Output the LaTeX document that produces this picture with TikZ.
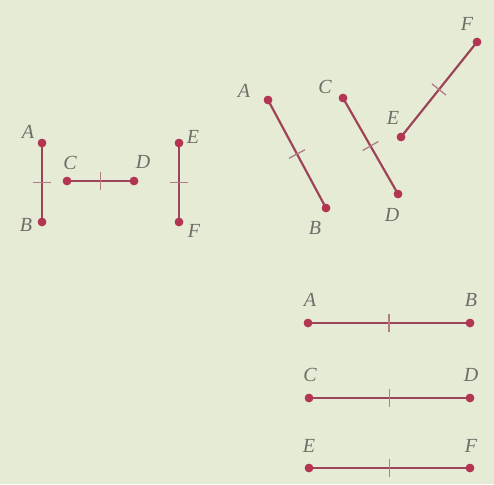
\documentclass[tikz,border=0pt]{standalone}
\usepackage{fontspec}
\setmainfont{Liberation Serif}
\usetikzlibrary{calc}
\definecolor{bg}{HTML}{E6EBD6}
\definecolor{seg}{HTML}{9E4458}
\definecolor{dotc}{HTML}{B23552}
\definecolor{tickc}{HTML}{B07C86}
\definecolor{lab}{HTML}{6E6E68}
\begin{document}
\begin{tikzpicture}[x=1pt,y=-1pt,
  pt/.style={circle,fill=dotc,inner sep=0pt,minimum size=8.5pt},
  segline/.style={draw=seg,line width=2.2pt},
  tickline/.style={draw=tickc,line width=1.3pt},
  lbl/.style={text=lab,font=\fontsize{20}{22}\selectfont\itshape,inner sep=0pt}]
\fill[bg] (0,0) rectangle (494,484);
\useasboundingbox (0,0) rectangle (494,484);
% group 1
\node[pt] (A1) at (42,143) {};
\node[pt] (B1) at (42,222) {};
\node[pt] (C1) at (67,181) {};
\node[pt] (D1) at (134,181) {};
\node[pt] (E1) at (179,143) {};
\node[pt] (F1) at (179,222) {};
% group 2
\node[pt] (A2) at (268,100) {};
\node[pt] (B2) at (326,208) {};
\node[pt] (C2) at (343,98) {};
\node[pt] (D2) at (398,194) {};
\node[pt] (E2) at (401,137) {};
\node[pt] (F2) at (477,42) {};
% group 3
\node[pt] (A3) at (308,323) {};
\node[pt] (B3) at (470,323) {};
\node[pt] (C3) at (309,398) {};
\node[pt] (D3) at (470,398) {};
\node[pt] (E3) at (309,468) {};
\node[pt] (F3) at (470,468) {};
% segments and ticks
\foreach \p/\q in {A1/B1,C1/D1,E1/F1,A2/B2,C2/D2,E2/F2,A3/B3,C3/D3,E3/F3}{
  \draw[segline] (\p.center) -- (\q.center);
  \draw[tickline] ($(\p.center)!0.5!(\q.center)!9pt!90:(\q.center)$) -- ($(\p.center)!0.5!(\q.center)!9pt!-90:(\q.center)$);
}
\foreach \n in {A1,B1,C1,D1,E1,F1,A2,B2,C2,D2,E2,F2,A3,B3,C3,D3,E3,F3}{
  \node[pt] at (\n.center) {};
}
% labels
\node[lbl] (lA1) at (28,132) {A};
\node[lbl] (lB1) at (26,225) {B};
\node[lbl] (lC1) at (70,163) {C};
\node[lbl] (lD1) at (143,162) {D};
\node[lbl] (lE1) at (193,137) {E};
\node[lbl] (lF1) at (194,231) {F};
\node[lbl] (lA2) at (244,91) {A};
\node[lbl] (lB2) at (315,228) {B};
\node[lbl] (lC2) at (325,87) {C};
\node[lbl] (lD2) at (392,215) {D};
\node[lbl] (lE2) at (393,118) {E};
\node[lbl] (lF2) at (467,24) {F};
\node[lbl] (lA3) at (310,300) {A};
\node[lbl] (lB3) at (471,300) {B};
\node[lbl] (lC3) at (310,375) {C};
\node[lbl] (lD3) at (471,375) {D};
\node[lbl] (lE3) at (309,446) {E};
\node[lbl] (lF3) at (471,446) {F};
\end{tikzpicture}
\end{document}
